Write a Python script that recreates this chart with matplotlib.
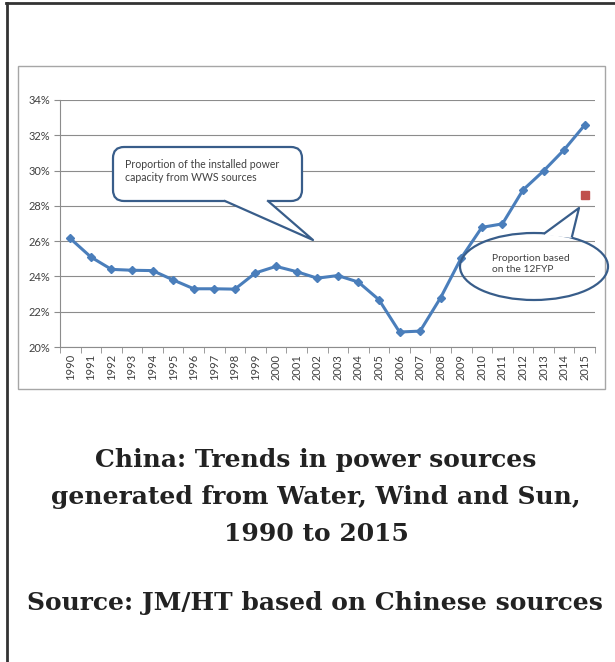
import numpy as np
import matplotlib.pyplot as plt
from matplotlib.patches import FancyBboxPatch, Ellipse, Polygon, Rectangle
from matplotlib.lines import Line2D
from matplotlib.ticker import FixedLocator, PercentFormatter

years = [str(y) for y in range(1990, 2016)]
wws_share = [26.15, 25.1, 24.4, 24.35, 24.33, 23.8, 23.3, 23.3, 23.28, 24.2,
             24.57, 24.27, 23.9, 24.05, 23.68, 22.68, 20.85, 20.9, 22.8, 25.05,
             26.78, 26.98, 28.9, 29.98, 31.18, 32.58]
target_year = '2015'
target_share = 28.6
y_ticks = [20, 22, 24, 26, 28, 30, 32, 34]

title = ('China: Trends in power sources\n'
         'generated from Water, Wind and Sun,\n'
         '1990 to 2015')
source = 'Source: JM/HT based on Chinese sources'

W, H = 615, 662
BLUE = '#4a7ebb'
RED = '#c0504d'
EDGE = '#385d8a'
GRID = '#8c8c8c'


def px(x, y):
    """pixel position (top-left origin) to figure fraction"""
    return x / W, 1 - y / H


def plot_chart():
    fig = plt.figure(figsize=(W / 100, H / 100), dpi=100)

    # outer page frame and the pasted chart's border
    fig.add_artist(Line2D([6 / W, 1], [1 - 3 / H] * 2, color='#333333', lw=2))
    fig.add_artist(Line2D([6.5 / W] * 2, [0, 1 - 3 / H], color='#333333', lw=2))
    fig.add_artist(Rectangle(px(18, 389), 587 / W, 323 / H, fill=False,
                             edgecolor='#a6a6a6', lw=1))

    ax = fig.add_axes([60 / W, 1 - 347 / H, 535 / W, 247 / H])
    x = np.arange(len(years))
    ax.plot(x, wws_share, color=BLUE, lw=2.2, marker='D', markersize=4.5,
            zorder=3)
    ax.plot(years.index(target_year), target_share, marker='s', color=RED,
            markersize=6, ls='none', zorder=3)

    ax.set_xlim(-0.5, len(years) - 0.5)
    ax.set_ylim(y_ticks[0], y_ticks[-1])
    ax.set_yticks(y_ticks)
    ax.yaxis.set_major_formatter(PercentFormatter(decimals=0))
    ax.set_xticks(x)
    ax.set_xticklabels(years, rotation=90)
    ax.xaxis.set_minor_locator(FixedLocator(np.arange(-0.5, len(years), 1)))
    ax.tick_params(axis='x', which='major', length=0, pad=5)
    ax.tick_params(axis='x', which='minor', length=4, color=GRID)
    ax.tick_params(axis='y', length=4, color=GRID, pad=3)
    for lab in ax.get_xticklabels() + ax.get_yticklabels():
        lab.set_fontfamily('Lato')
        lab.set_fontsize(8)
        lab.set_color('#404040')
    ax.grid(axis='y', color=GRID, lw=0.8)
    ax.set_axisbelow(True)
    for side in ['top', 'right']:
        ax.spines[side].set_visible(False)
    for side in ['left', 'bottom']:
        ax.spines[side].set_color(GRID)

    # callout: installed capacity
    box = FancyBboxPatch(px(113, 201), 189 / W, 54 / H,
                         boxstyle='round,pad=0,rounding_size=0.018',
                         transform=fig.transFigure, facecolor='white',
                         edgecolor=EDGE, lw=1.6, mutation_aspect=W / H)
    fig.add_artist(box)
    tail = [px(225, 201), px(313, 240), px(268, 201)]
    fig.add_artist(Polygon([px(224, 199)] + tail + [px(269, 199)],
                           closed=True, facecolor='white', edgecolor='none'))
    fig.add_artist(Line2D(*zip(*tail), color=EDGE, lw=1.6))
    fig.text(*px(125, 171), 'Proportion of the installed power\n'
             'capacity from WWS sources', fontsize=7.6, family='Lato',
             color='#404040', va='center', linespacing=1.25)

    # callout: 12th five-year plan
    fig.add_artist(Ellipse(px(534, 266.5), 148 / W, 67 / H, fill=False,
                           edgecolor=EDGE, lw=1.6))
    tail2 = [px(545, 233), px(579, 208), px(572, 236.5)]
    fig.add_artist(Polygon([px(545, 235)] + tail2 + [px(572, 238)],
                           closed=True, facecolor='white', edgecolor='none'))
    fig.add_artist(Line2D(*zip(*tail2), color=EDGE, lw=1.6))
    fig.text(*px(492, 264), 'Proportion based\non the 12FYP', fontsize=7.4,
             family='Lato', color='#404040', va='center', linespacing=1.4)

    fig.text(*px(316, 497), title, ha='center', va='center',
             family='DejaVu Serif', fontweight='bold', fontsize=18,
             color='#222222', linespacing=1.68)
    fig.text(*px(315, 603), source, ha='center', va='center',
             family='DejaVu Serif', fontweight='bold', fontsize=18,
             color='#222222')

    fig.savefig('out.png', dpi=100)


if __name__ == '__main__':
    plot_chart()
